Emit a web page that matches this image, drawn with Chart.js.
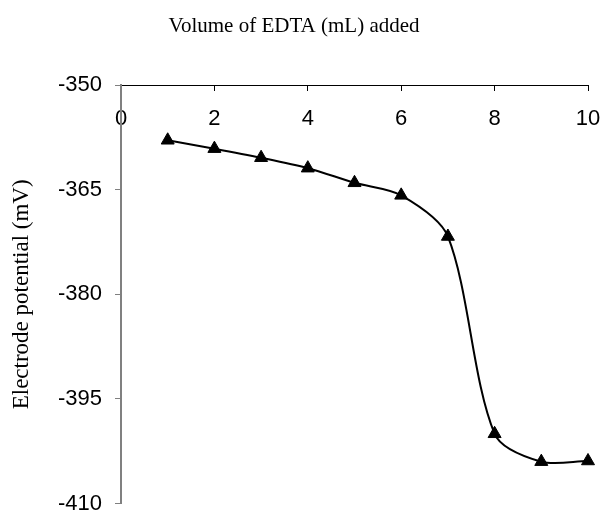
<!DOCTYPE html>
<html>
<head>
<meta charset="utf-8">
<script src="https://cdn.jsdelivr.net/npm/chart.js@4/dist/chart.umd.min.js"></script>
<style>
  html, body { margin: 0; padding: 0; background: #ffffff; }
  #wrap { width: 602px; height: 512px; position: relative; }
</style>
</head>
<body>
<div id="wrap"><canvas id="c"></canvas></div>
<script>
// Data
const volumes = [1, 2, 3, 4, 5, 6, 7, 8, 9, 10];               // Volume of EDTA (mL)
const potentials = [-357.9, -359.1, -360.4, -361.9, -364.0, -365.8, -371.7, -400.0, -404.0, -403.9]; // mV
const xTicks = [0, 2, 4, 6, 8, 10];
const yTicks = [-410, -395, -380, -365, -350];

const xTitle = 'Volume of EDTA (mL) added';
const yTitle = 'Electrode potential (mV)';

const points = volumes.map((v, i) => ({ x: v, y: potentials[i] }));

new Chart(document.getElementById('c'), {
  type: 'line',
  data: {
    datasets: [{
      data: points,
      borderColor: '#000000',
      backgroundColor: '#000000',
      borderWidth: 2,
      tension: 0.3,
      pointStyle: 'triangle',
      pointRadius: 7.5,
      pointHoverRadius: 7.5,
      pointBorderWidth: 1,
      pointBackgroundColor: '#000000',
      pointBorderColor: '#000000',
      fill: false,
      clip: false
    }]
  },
  options: {
    responsive: true,
    maintainAspectRatio: false,
    animation: false,
    devicePixelRatio: 1,
    layout: { padding: { left: 0, right: 14, top: 0, bottom: 7 } },
    plugins: {
      legend: { display: false },
      tooltip: { enabled: false },
      title: {
        display: true,
        text: xTitle,
        color: '#000000',
        font: { family: "'Liberation Serif', 'Times New Roman', serif", size: 21, weight: 'normal' },
        padding: { top: 14, bottom: 46 }
      }
    },
    scales: {
      x: {
        type: 'linear',
        position: { y: -350 },
        min: 0,
        max: 10,
        afterBuildTicks: (scale) => { scale.ticks = xTicks.map(v => ({ value: v })); },
        afterFit: (scale) => { scale.paddingLeft = 0; scale.paddingRight = 0; },
        ticks: {
          color: '#000000',
          padding: 16,
          maxRotation: 0,
          autoSkip: false,
          font: { family: "'Liberation Sans', Arial, sans-serif", size: 22 }
        },
        grid: { display: true, drawOnChartArea: false, drawTicks: true, tickLength: 5, color: '#000000', tickColor: '#000000', lineWidth: 1 },
        border: { display: true, color: '#000000', width: 1 }
      },
      y: {
        type: 'linear',
        position: 'left',
        min: -410,
        max: -350,
        afterBuildTicks: (scale) => { scale.ticks = yTicks.map(v => ({ value: v })); },
        afterFit: (scale) => { scale.width = 121; scale.paddingTop = 0; scale.paddingBottom = 0; },
        ticks: {
          color: '#000000',
          padding: 13,
          autoSkip: false,
          font: { family: "'Liberation Sans', Arial, sans-serif", size: 22 }
        },
        grid: { display: true, drawOnChartArea: false, drawTicks: true, tickLength: 6, color: '#808080', tickColor: '#808080', lineWidth: 1 },
        border: { display: true, color: '#808080', width: 2 },
        title: {
          display: true,
          text: yTitle,
          color: '#000000',
          font: { family: "'Liberation Serif', 'Times New Roman', serif", size: 23, weight: 'normal' },
          padding: { top: 8, bottom: 0 }
        }
      }
    }
  }
});
</script>
</body>
</html>
